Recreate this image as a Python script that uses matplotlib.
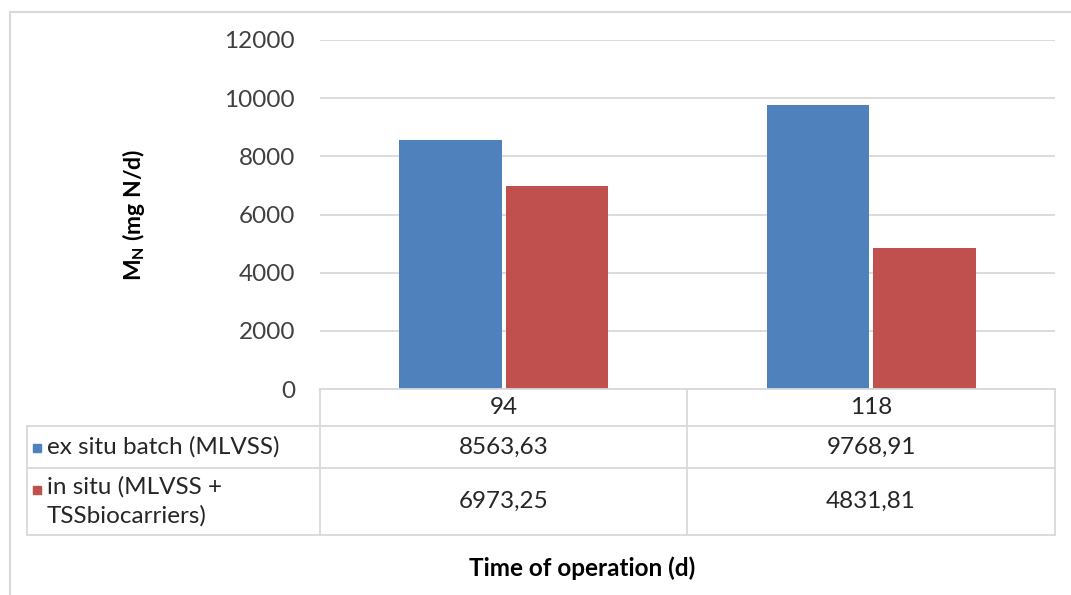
import matplotlib.pyplot as plt
from matplotlib.lines import Line2D
from matplotlib.patches import Rectangle
import numpy as np

# data
days = ['94', '118']
ex_situ = [8563.63, 9768.91]
in_situ = [6973.25, 4831.81]
series_names = ['ex situ batch (MLVSS)', 'in situ (MLVSS +\nTSSbiocarriers)']
colors = ['#4F81BD', '#C0504D']
yticks = [0, 2000, 4000, 6000, 8000, 10000, 12000]

W, H = 1071, 595
plt.rcParams['font.family'] = ['Lato', 'DejaVu Sans']
fig = plt.figure(figsize=(W / 100, H / 100), dpi=100)

def fx(px):
    return px / W

def fy(py):
    return 1 - py / H

fs = 17.5
# main plot area
x0, x1, ytop, ybot = 320, 1055, 40, 389
ax = fig.add_axes([fx(x0), fy(ybot), fx(x1) - fx(x0), fy(ytop) - fy(ybot)])
x = np.arange(len(days))
bw = 0.278
ax.bar(x - bw / 2 - 0.006, ex_situ, bw, color=colors[0])
ax.bar(x + bw / 2 + 0.006, in_situ, bw, color=colors[1])
ax.set_xlim(-0.5, 1.5)
ax.set_ylim(0, 12000)
ax.set_yticks(yticks)
ax.set_yticklabels([str(t) for t in yticks], fontsize=fs, color='#404040')
ax.tick_params(axis='y', length=0, pad=18)
ax.set_xticks([])
ax.grid(axis='y', color='#D9D9D9', linewidth=1.3)
ax.set_axisbelow(True)
for s in ax.spines.values():
    s.set_visible(False)
ax.set_ylabel('M$_\\mathregular{N}$ (mg N/d)', fontsize=16.5, fontweight='bold',
              color='black', labelpad=56)

# data table below the axis
gc = '#D9D9D9'
def line(xa, ya, xb, yb, c=gc, lw=1.3):
    fig.add_artist(Line2D([fx(xa), fx(xb)], [fy(ya), fy(yb)], color=c, lw=lw))

xl, xm = 27, 687
rows = [389, 426, 468, 535]
line(x0, rows[0], x1, rows[0])
for r in rows[1:]:
    line(xl, r, x1, r)
for xv in (x0, xm, x1):
    line(xv, rows[0], xv, rows[3])
line(xl, rows[1], xl, rows[3])

col_centers = [(x0 + xm) / 2, (xm + x1) / 2]
for d, cx in zip(days, col_centers):
    fig.text(fx(cx), fy((rows[0] + rows[1]) / 2), d, ha='center', va='center',
             fontsize=fs, color='#262626')
for i, vals in enumerate([ex_situ, in_situ]):
    ymid = (rows[i + 1] + rows[i + 2]) / 2
    for v, cx in zip(vals, col_centers):
        fig.text(fx(cx), fy(ymid), f'{v:.2f}'.replace('.', ','), ha='center',
                 va='center', fontsize=fs, color='#262626')
    sq_y = 448 if i == 0 else 490
    fig.add_artist(Rectangle((fx(33), fy(sq_y + 4)), fx(8), fy(0) - fy(8),
                             color=colors[i]))
    fig.text(fx(47), fy(ymid), series_names[i], ha='left', va='center',
             fontsize=fs, color='#262626', linespacing=1.45)

fig.text(fx(582), fy(568), 'Time of operation (d)', ha='center', va='center',
         fontsize=fs, fontweight='bold', color='black')

# outer chart frame
line(10, 12, W, 12, c='#D9D9D9', lw=1.5)
line(10, 12, 10, H, c='#D9D9D9', lw=1.5)

fig.savefig('out.png', dpi=100)
